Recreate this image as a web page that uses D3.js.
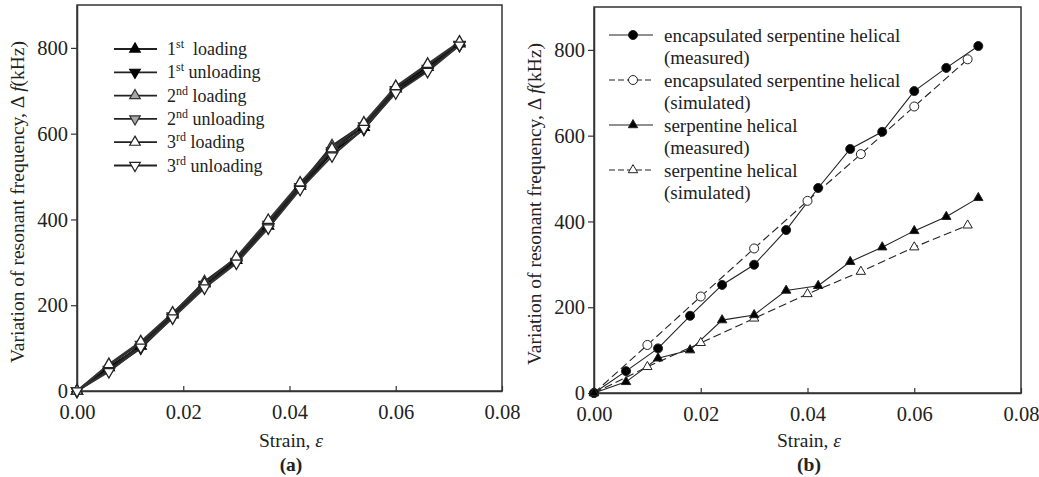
<!DOCTYPE html>
<html><head><meta charset="utf-8">
<script src="https://cdn.jsdelivr.net/npm/d3@7"></script>
<style>
body{margin:0;background:#fff;}
svg text{font-family:"Liberation Serif","Times New Roman","DejaVu Serif",serif !important;}
</style></head>
<body><svg id="c" width="1039" height="477"></svg>
<script>
// ---------- DATA ----------
const strainA = [0, 0.006, 0.012, 0.018, 0.024, 0.030, 0.036, 0.042, 0.048, 0.054, 0.060, 0.066, 0.072];
const load1   = [0, 55, 105, 178, 252, 305, 385, 478, 568, 615, 705, 755, 810];
const unload1 = [0, 48, 100, 172, 248, 300, 382, 472, 556, 610, 698, 748, 806];
const load2   = [0, 60, 112, 180, 255, 310, 392, 482, 572, 622, 708, 760, 812];
const unload2 = [0, 50, 108, 175, 245, 302, 388, 476, 560, 618, 702, 752, 808];
const load3   = [0, 62, 115, 182, 250, 312, 398, 485, 565, 625, 710, 762, 814];
const unload3 = [0, 45, 102, 170, 240, 298, 380, 470, 548, 612, 695, 745, 806];
const seriesNamesA = [["1","st","  loading"],["1","st"," unloading"],["2","nd"," loading"],["2","nd"," unloading"],["3","rd"," loading"],["3","rd"," unloading"]];

const strainMeas = [0, 0.006, 0.012, 0.018, 0.024, 0.030, 0.036, 0.042, 0.048, 0.054, 0.060, 0.066, 0.072];
const strainSim  = [0, 0.01, 0.02, 0.03, 0.04, 0.05, 0.06, 0.07];
const encMeasured = [0, 51, 104, 180, 252, 299, 380, 478, 569, 609, 704, 758, 809];
const encSimulated = [0, 112, 225, 337, 448, 557, 668, 778];
const serpMeasured = [0, 26, 81, 100, 170, 182, 239, 250, 306, 340, 378, 411, 455];
const serpSimulated = [0, 61, 117, 174, 231, 283, 340, 391];
const legendB = [["encapsulated serpentine helical","(measured)"],["encapsulated serpentine helical","(simulated)"],["serpentine helical","(measured)"],["serpentine helical","(simulated)"]];

const xTickVals = [0, 0.02, 0.04, 0.06, 0.08];
const yTickVals = [0, 200, 400, 600, 800];
const xDomain = [0, 0.08];
const yDomain = [0, 900];

// ---------- DRAW ----------
const svg = d3.select("#c");
const LABF = 19.5, TICKF = 20.5;

function panel(L, R, T, B, cx, caption, ylabX) {
  const g = svg.append("g");
  const x = d3.scaleLinear().domain(xDomain).range([L, R]);
  const y = d3.scaleLinear().domain(yDomain).range([B, T]);
  g.append("rect").attr("x", L).attr("y", T).attr("width", R - L).attr("height", B - T)
    .attr("fill", "none").attr("stroke", "#333").attr("stroke-width", 1.5);
  const xa = g.append("g").attr("transform", `translate(0,${B})`)
    .call(d3.axisBottom(x).tickValues(xTickVals).tickFormat(d3.format(".2f")).tickSizeInner(-5).tickSizeOuter(0).tickPadding(13));
  const ya = g.append("g").attr("transform", `translate(${L},0)`)
    .call(d3.axisLeft(y).tickValues(yTickVals).tickSizeInner(6).tickSizeOuter(0).tickPadding(3));
  [xa, ya].forEach(a => {
    a.select(".domain").attr("stroke", "#333").attr("stroke-width", 1.5);
    a.selectAll(".tick line").attr("stroke", "#333").attr("stroke-width", 1.2);
    a.selectAll("text").attr("font-size", TICKF).attr("fill", "#222");
  });
  const xl = g.append("text").attr("x", cx).attr("y", 447).attr("text-anchor", "middle")
    .attr("font-size", LABF).attr("fill", "#222");
  xl.append("tspan").text("Strain, ");
  xl.append("tspan").attr("font-style", "italic").text("ε");
  g.append("text").attr("x", cx).attr("y", 471).attr("text-anchor", "middle")
    .attr("font-size", LABF).attr("font-weight", "bold").attr("fill", "#222").text(caption);
  const yl = g.append("text").attr("transform", `translate(${ylabX},${(T + B) / 2 + 4}) rotate(-90)`)
    .attr("text-anchor", "middle").attr("font-size", LABF).attr("fill", "#222");
  yl.append("tspan").text("Variation of resonant frequency, Δ ");
  yl.append("tspan").attr("font-style", "italic").text("f");
  yl.append("tspan").text("(kHz)");
  return {g, x, y};
}

const tri = d3.symbol().type(d3.symbolTriangle);

// ----- Panel (a)
const A = panel(77, 502, 5, 391, 291, "(a)", 24);
const seriesA = [load1, unload1, load2, unload2, load3, unload3];
const fillsA = ["#000", "#000", "#a8a8a8", "#a8a8a8", "#fff", "#fff"];
const strokesA = ["#000", "#000", "#333", "#333", "#222", "#222"];
const lineColA = ["#000", "#000", "#222", "#222", "#333", "#333"];
const lineA = d3.line().x((d, i) => A.x(strainA[i])).y(d => A.y(d));
seriesA.forEach((s, k) => {
  A.g.append("path").attr("d", lineA(s)).attr("fill", "none").attr("stroke", lineColA[k]).attr("stroke-width", 2);
});
seriesA.forEach((s, k) => {
  const down = k % 2 === 1;
  A.g.selectAll(null).data(s).enter().append("path")
    .attr("d", tri.size(52)())
    .attr("transform", (d, i) => `translate(${A.x(strainA[i])},${A.y(d)}) rotate(${down ? 180 : 0})`)
    .attr("fill", fillsA[k]).attr("stroke", strokesA[k]).attr("stroke-width", 1.3);
});
seriesNamesA.forEach((n, k) => {
  const cy = 49 + k * 23.3;
  A.g.append("line").attr("x1", 114).attr("x2", 157).attr("y1", cy).attr("y2", cy)
    .attr("stroke", "#222").attr("stroke-width", 1.8);
  A.g.append("path").attr("d", tri.size(48)())
    .attr("transform", `translate(135,${cy}) rotate(${k % 2 ? 180 : 0})`)
    .attr("fill", fillsA[k]).attr("stroke", strokesA[k]).attr("stroke-width", 1.2);
  const t = A.g.append("text").attr("x", 167).attr("y", cy + 6).attr("font-size", 18).attr("fill", "#222")
    .style("white-space", "pre");
  t.append("tspan").text(n[0]);
  t.append("tspan").attr("font-size", 12).attr("dy", -7).text(n[1]);
  t.append("tspan").attr("dy", 7).text(n[2]);
});

// ----- Panel (b)
const Bp = panel(594, 1021, 7, 393, 809, "(b)", 541);
function lineB(xs, ys, dashed) {
  const ln = d3.line().x((d, i) => Bp.x(xs[i])).y(d => Bp.y(d));
  Bp.g.append("path").attr("d", ln(ys)).attr("fill", "none").attr("stroke", "#222")
    .attr("stroke-width", 1.1).attr("stroke-dasharray", dashed ? "8,4" : null);
}
lineB(strainMeas, encMeasured, false);
lineB(strainSim, encSimulated, true);
lineB(strainMeas, serpMeasured, false);
lineB(strainSim, serpSimulated, true);
function circles(xs, ys, filled) {
  Bp.g.selectAll(null).data(ys).enter().append("circle")
    .attr("cx", (d, i) => Bp.x(xs[i])).attr("cy", d => Bp.y(d)).attr("r", 4.5)
    .attr("fill", filled ? "#000" : "#fff").attr("stroke", "#222").attr("stroke-width", 1);
}
function tris(xs, ys, filled) {
  Bp.g.selectAll(null).data(ys).enter().append("path").attr("d", tri.size(38)())
    .attr("transform", (d, i) => `translate(${Bp.x(xs[i])},${Bp.y(d)})`)
    .attr("fill", filled ? "#000" : "#fff").attr("stroke", "#222").attr("stroke-width", 1);
}
circles(strainSim, encSimulated, false);
circles(strainMeas, encMeasured, true);
tris(strainSim, serpSimulated, false);
tris(strainMeas, serpMeasured, true);
legendB.forEach((n, k) => {
  const cy = 35 + k * 45;
  Bp.g.append("line").attr("x1", 609).attr("x2", 653).attr("y1", cy).attr("y2", cy)
    .attr("stroke", "#222").attr("stroke-width", 1.1).attr("stroke-dasharray", k % 2 ? "6,3" : null);
  if (k < 2) {
    Bp.g.append("circle").attr("cx", 633).attr("cy", cy).attr("r", 4.5)
      .attr("fill", k % 2 ? "#fff" : "#000").attr("stroke", "#222");
  } else {
    Bp.g.append("path").attr("d", tri.size(38)()).attr("transform", `translate(633,${cy})`)
      .attr("fill", k % 2 ? "#fff" : "#000").attr("stroke", "#222");
  }
  Bp.g.append("text").attr("x", 664).attr("y", cy + 6.5).attr("font-size", 19).attr("fill", "#222").text(n[0]);
  Bp.g.append("text").attr("x", 664).attr("y", cy + 29).attr("font-size", 19).attr("fill", "#222").text(n[1]);
});
</script></body></html>
